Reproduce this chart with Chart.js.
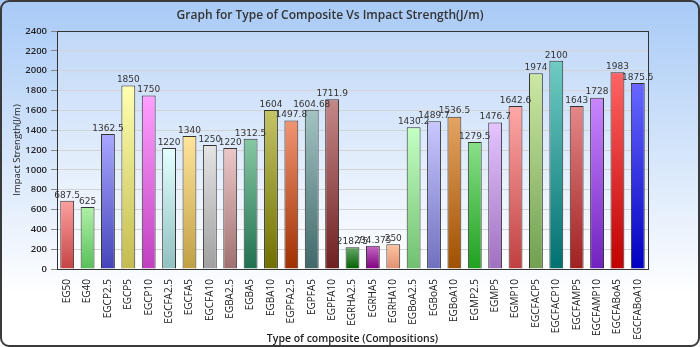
<!DOCTYPE html>
<html>
<head>
<meta charset="utf-8">
<script src="https://cdn.jsdelivr.net/npm/chart.js@4/dist/chart.umd.min.js"></script>
<style>
  html, body { margin: 0; padding: 0; background: #fff; }
  #wrap { width: 700px; height: 347px; }
</style>
</head>
<body>
<div id="wrap"><canvas id="myChart" width="700" height="347"></canvas></div>
<script>
// composites and their impact strength (J/m)
var composites = ['EG50', 'EG40', 'EGCP2.5', 'EGCP5', 'EGCP10', 'EGCFA2.5', 'EGCFA5', 'EGCFA10',
  'EGBA2.5', 'EGBA5', 'EGBA10', 'EGPFA2.5', 'EGPFA5', 'EGPFA10', 'EGRHA2.5', 'EGRHA5', 'EGRHA10',
  'EGBoA2.5', 'EGBoA5', 'EGBoA10', 'EGMP2.5', 'EGMP5', 'EGMP10', 'EGCFACP5', 'EGCFACP10',
  'EGCFAMP5', 'EGCFAMP10', 'EGCFABoA5', 'EGCFABoA10'];
var impactStrength = [687.5, 625, 1362.5, 1850, 1750, 1220, 1340, 1250,
  1220, 1312.5, 1604, 1497.8, 1604.68, 1711.9, 218.75, 234.375, 250,
  1430.2, 1489.7, 1536.5, 1279.5, 1476.7, 1642.6, 1974, 2100,
  1643, 1728, 1983, 1875.5];

// light (top) and dark (bottom) colour of each bar
var topColors = ['#ffa0a0', '#b0f0a8', '#a8a8ff', '#ffffb0', '#ffa0ff', '#e4ffff', '#ffe49c', '#e4e4e4',
  '#ecc8c8', '#88c8a4', '#c4c468', '#f09474', '#a4c4c4', '#c48888', '#68a868', '#c468c4', '#ffc4a4',
  '#c4ffc4', '#c8c8ff', '#e4a464', '#88e088', '#e4c4ff', '#ffa8a8', '#cce8a4', '#70ccc4',
  '#e48888', '#c888ff', '#ff6464', '#6868ff'];
var bottomColors = ['#c44444', '#58c058', '#4444b8', '#c4bc50', '#c040c0', '#90c0c0', '#c0a044', '#a0a0a0',
  '#a07070', '#207050', '#707000', '#a03000', '#406868', '#702020', '#006000', '#800080', '#e09070',
  '#70c070', '#7070c0', '#a05000', '#20a020', '#a070c0', '#c04040', '#70a050', '#007070',
  '#a02020', '#7020c0', '#c00000', '#0000c0'];

var yTicks = { min: 0, max: 2400, step: 200 };

function barGradient(ctx) {
  var chart = ctx.chart;
  var y = chart.scales.y;
  var i = ctx.dataIndex;
  if (!chart.chartArea || i === undefined) return topColors[0];
  var top = y.getPixelForValue(impactStrength[i]);
  var bottom = y.getPixelForValue(0);
  var g = chart.ctx.createLinearGradient(0, top, 0, bottom);
  g.addColorStop(0, topColors[i]);
  g.addColorStop(1, bottomColors[i]);
  return g;
}

var backdrop = {
  id: 'backdrop',
  beforeDraw: function(chart) {
    var c = chart.ctx, w = chart.width, h = chart.height, a = chart.chartArea;
    c.save();
    var g = c.createLinearGradient(0, 0, 0, h);
    g.addColorStop(0, '#a8caf6');
    g.addColorStop(0.85, '#ffffff');
    c.fillStyle = g;
    c.fillRect(0, 0, w, h);
    var p = c.createLinearGradient(0, a.top, 0, a.bottom);
    p.addColorStop(0, '#c0d8f8');
    p.addColorStop(1, '#ffffff');
    c.fillStyle = p;
    c.fillRect(a.left, a.top, a.right - a.left, a.bottom - a.top);
    c.restore();
  },
  afterDraw: function(chart) {
    var c = chart.ctx, w = chart.width, h = chart.height, a = chart.chartArea;
    c.save();
    c.strokeStyle = '#333';
    c.lineWidth = 1;
    c.strokeRect(a.left + 0.5, a.top + 0.5, a.right - a.left, a.bottom - a.top);
    c.strokeStyle = '#3a3a3a';
    c.lineWidth = 2;
    c.beginPath();
    c.roundRect(1, 1, w - 2, h - 2, 8);
    c.stroke();
    c.restore();
  }
};

var valueLabels = {
  id: 'valueLabels',
  afterDatasetsDraw: function(chart) {
    var c = chart.ctx;
    var meta = chart.getDatasetMeta(0);
    c.save();
    c.font = '9px "DejaVu Sans"';
    c.fillStyle = '#333';
    c.textAlign = 'center';
    c.textBaseline = 'bottom';
    meta.data.forEach(function(bar, i) {
      c.fillText(String(impactStrength[i]), bar.x, bar.y - 1);
    });
    c.restore();
  }
};

var ctx = document.getElementById('myChart').getContext('2d');
var myChart = new Chart(ctx, {
  type: 'bar',
  data: {
    labels: composites,
    datasets: [{
      label: 'Impact Strength',
      data: impactStrength,
      backgroundColor: barGradient,
      borderColor: '#333',
      borderWidth: 1,
      barPercentage: 0.68,
      categoryPercentage: 1
    }]
  },
  options: {
    responsive: false,
    animation: false,
    layout: { padding: { left: 12, right: 52, top: 0, bottom: 2 } },
    plugins: {
      legend: { display: false },
      tooltip: { enabled: false },
      title: {
        display: true,
        text: 'Graph for Type of Composite Vs Impact Strength(J/m)',
        color: '#333',
        font: { family: 'Open Sans', size: 12, weight: '600' },
        padding: { top: 8, bottom: 8.6 }
      }
    },
    scales: {
      x: {
        grid: { display: false },
        border: { color: '#333' },
        ticks: {
          autoSkip: false,
          minRotation: 90,
          maxRotation: 90,
          padding: 2,
          color: '#222',
          font: { family: 'Open Sans', size: 10 }
        },
        title: {
          display: true,
          text: 'Type of composite (Compositions)',
          color: '#222',
          font: { family: 'Open Sans', size: 10.5, weight: '600' },
          padding: { top: 0, bottom: 0 }
        },
        afterFit: function(scale) { scale.height = 76; }
      },
      y: {
        min: yTicks.min,
        max: yTicks.max,
        grid: { color: '#d4d4d4', tickLength: 6, tickColor: '#888' },
        border: { color: '#333' },
        ticks: {
          stepSize: yTicks.step,
          padding: 4,
          color: '#222',
          font: { family: 'Open Sans', size: 9.5, weight: '600' },
          callback: function(v) { return String(v); }
        },
        title: {
          display: true,
          text: 'Impact Strength(J/m)',
          color: '#222',
          font: { family: 'Open Sans', size: 9.5 },
          padding: { top: 0, bottom: 2 }
        },
        afterFit: function(scale) { scale.width = 45; }
      }
    }
  },
  plugins: [backdrop, valueLabels]
});
</script>
</body>
</html>
